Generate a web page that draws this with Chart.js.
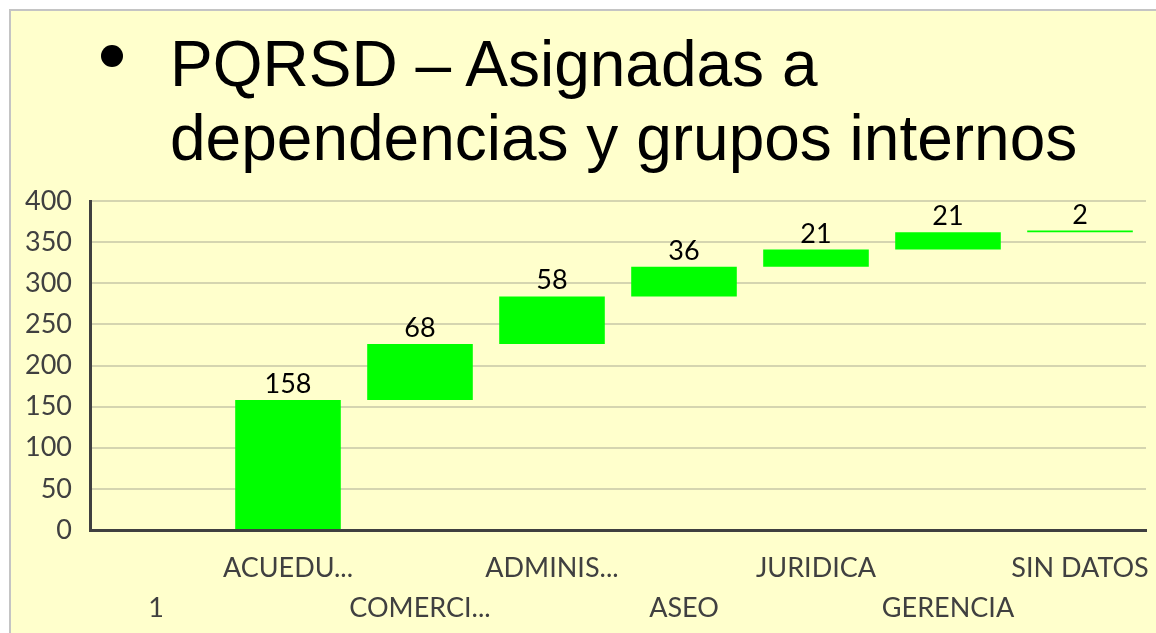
<!DOCTYPE html>
<html>
<head>
<meta charset="utf-8">
<script src="https://cdn.jsdelivr.net/npm/chart.js@4"></script>
<style>
  html, body { margin: 0; padding: 0; background: #fff; width: 1156px; height: 633px; overflow: hidden; }
  .slide {
    position: absolute; left: 9px; top: 9px; right: 0; bottom: 0;
    background: #FFFFCC;
    border-left: 2px solid #c4c4c4; border-top: 2px solid #c4c4c4;
  }
  .bullet {
    position: absolute; left: 101px; top: 45px; width: 22px; height: 22px;
    border-radius: 50%; background: #000;
  }
  .title {
    position: absolute; left: 170px; top: 27px;
    font-family: "Liberation Sans", Arial, sans-serif;
    font-size: 64px; line-height: 74px; color: #000; white-space: nowrap;
  }
  #chartBox { position: absolute; left: 0; top: 0; width: 1156px; height: 633px; }
</style>
</head>
<body>
<div class="slide"></div>
<div class="bullet"></div>
<div class="title">PQRSD – Asignadas a<br>dependencias y grupos internos</div>
<div id="chartBox"><canvas id="waterfall"></canvas></div>
<script>
// categories and the number of PQRSD assigned to each one
const categories = ['1', 'ACUEDU...', 'COMERCI...', 'ADMINIS...', 'ASEO', 'JURIDICA', 'GERENCIA', 'SIN DATOS'];
const assigned = [null, 158, 68, 58, 36, 21, 21, 2];
const yTicks = [0, 50, 100, 150, 200, 250, 300, 350, 400];

const labelFont = 'Lato, "Open Sans", sans-serif';

// floating bars: each step starts where the previous one ended
let running = 0;
const steps = assigned.map(v => {
  if (v === null) return null;
  const bar = [running, running + v];
  running += v;
  return bar;
});

// staggered category labels: odd ones on the first line, even ones on the second
const axisLabels = categories.map((c, i) => i % 2 ? [c, ''] : ['', c]);

const valueLabels = {
  id: 'valueLabels',
  afterDatasetsDraw(chart) {
    const ctx = chart.ctx;
    const meta = chart.getDatasetMeta(0);
    ctx.save();
    ctx.font = '27px ' + labelFont;
    ctx.fillStyle = '#000';
    ctx.textAlign = 'center';
    ctx.textBaseline = 'alphabetic';
    meta.data.forEach((bar, i) => {
      if (assigned[i] === null) return;
      const top = Math.min(bar.y, bar.base);
      ctx.fillText(String(assigned[i]), bar.x, top - 7);
    });
    ctx.restore();
  }
};

new Chart(document.getElementById('waterfall'), {
  type: 'bar',
  data: {
    labels: axisLabels,
    datasets: [{
      data: steps,
      backgroundColor: '#00FF00',
      borderWidth: 0,
      categoryPercentage: 1,
      barPercentage: 0.8
    }]
  },
  options: {
    responsive: true,
    maintainAspectRatio: false,
    animation: false,
    layout: { padding: { left: 9, top: 201, right: 10, bottom: 0 } },
    plugins: { legend: { display: false }, tooltip: { enabled: false } },
    scales: {
      x: {
        grid: { display: false, drawTicks: false },
        border: { display: true, color: '#404040', width: 3 },
        ticks: {
          autoSkip: false, maxRotation: 0, padding: 18,
          color: '#404040',
          font: { family: labelFont, size: 27, lineHeight: 1.5 }
        },
        afterFit: scale => {
          scale.height = 103;
          // let the outer labels hang past the plot edges
          scale.paddingLeft = 0;
          scale.paddingRight = 0;
        }
      },
      y: {
        min: 0, max: 400,
        afterBuildTicks: scale => { scale.ticks = yTicks.map(v => ({ value: v })); },
        grid: { color: 'rgba(150,150,135,0.4)', lineWidth: 2, drawTicks: false },
        border: { display: true, color: '#404040', width: 3 },
        ticks: {
          padding: 18, color: '#404040',
          font: { family: labelFont, size: 27 }
        },
        afterFit: scale => { scale.width = 81; }
      }
    }
  },
  plugins: [valueLabels]
});
</script>
</body>
</html>
